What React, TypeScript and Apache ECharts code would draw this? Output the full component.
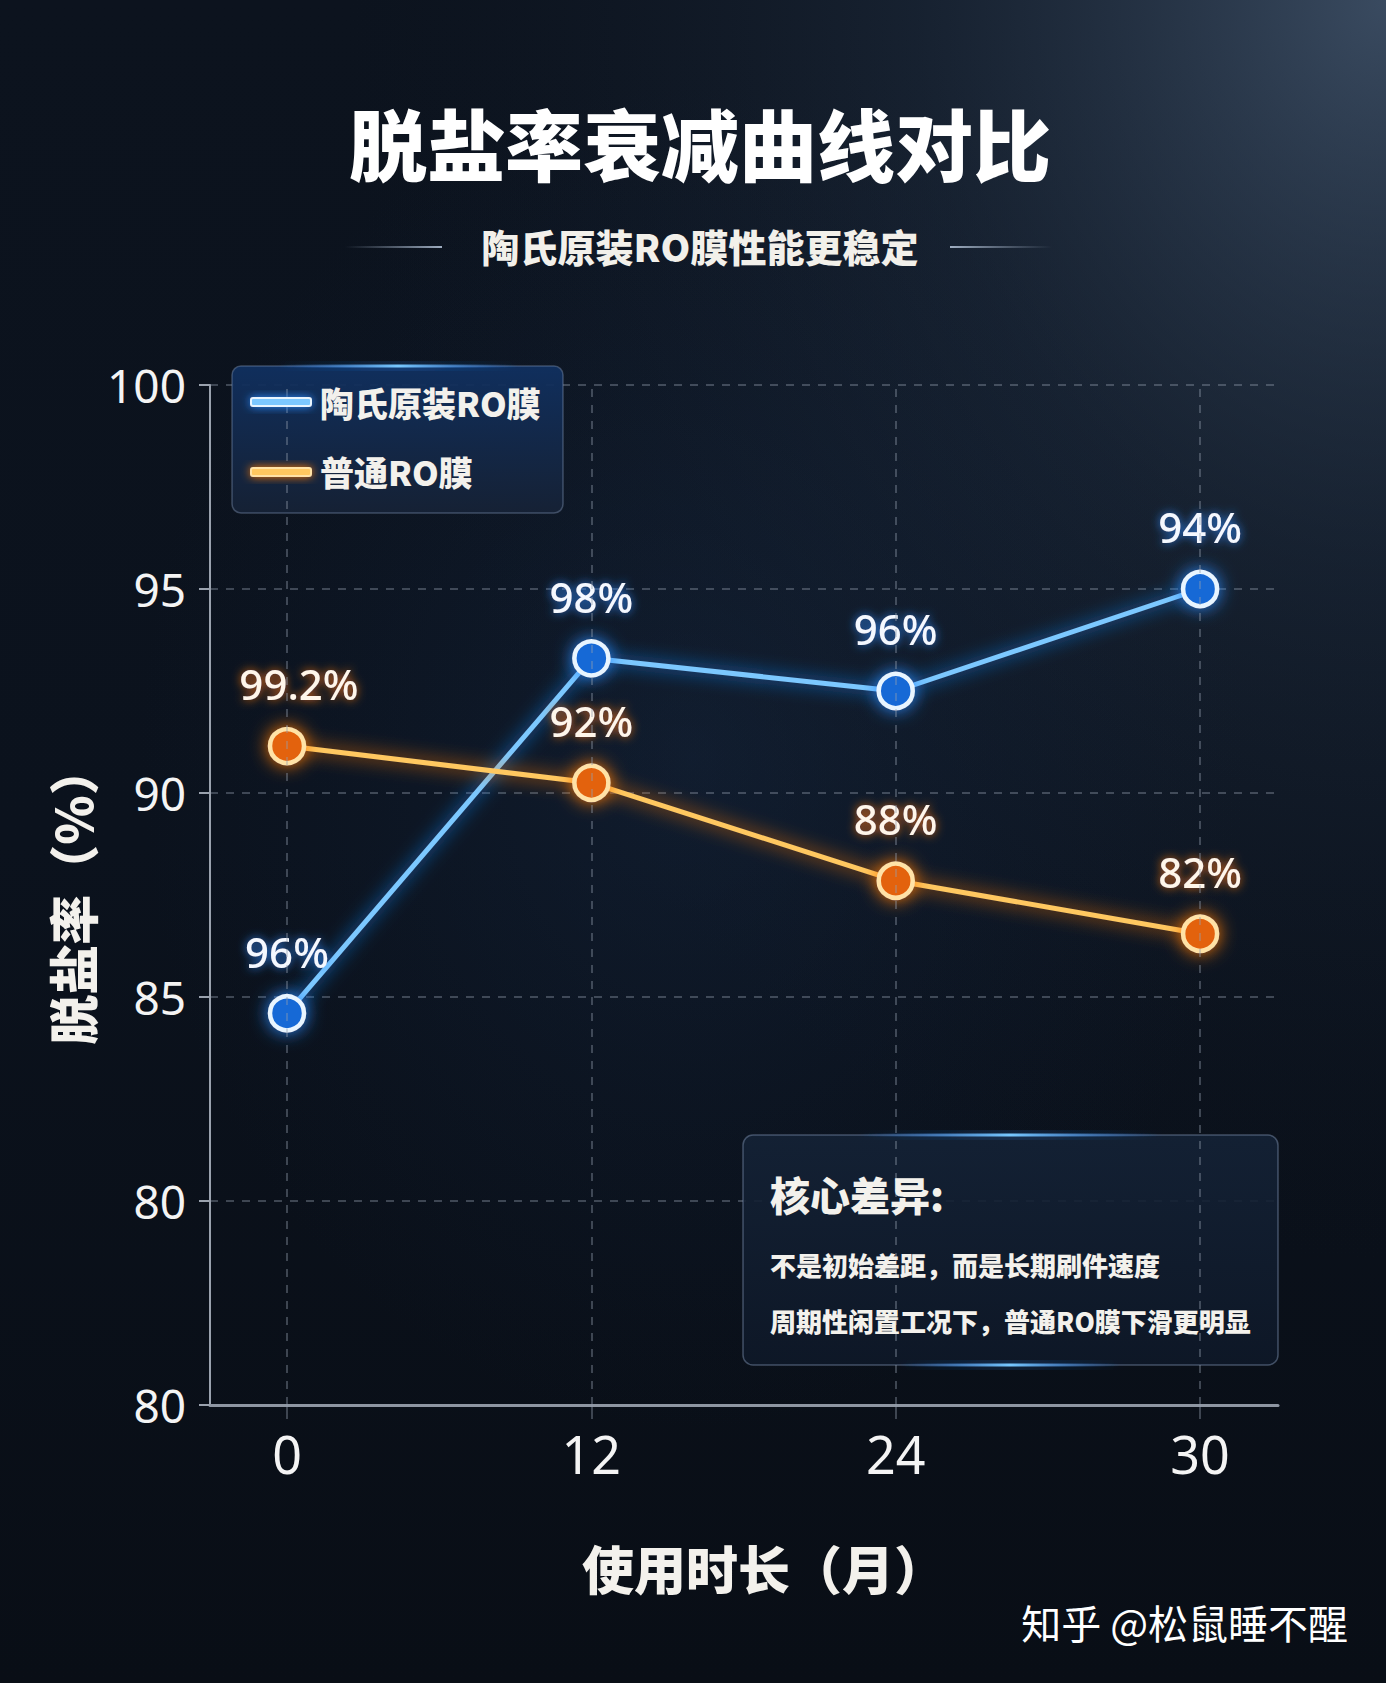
import React, { useEffect, useRef } from "react";
import * as echarts from "echarts";

const categories = ["0", "12", "24", "30"];
const dowSeries = [84.6, 93.3, 92.5, 95.0];
const dowLabels = ["96%", "98%", "96%", "94%"];
const normalSeries = [91.15, 90.25, 87.85, 86.55];
const normalLabels = ["99.2%", "92%", "88%", "82%"];
const yTickValues = [75, 80, 85, 90, 95, 100];
const yTickLabels = ["80", "80", "85", "90", "95", "100"];
const seriesNames = ["陶氏原装RO膜", "普通RO膜"];
const titleText = "脱盐率衰减曲线对比";
const subtitleText = "陶氏原装RO膜性能更稳定";
const xAxisName = "使用时长（月）";
const yAxisName = "脱盐率（%）";
const noteTitle = "核心差异:";
const noteLines = ["不是初始差距，而是长期刷件速度", "周期性闲置工况下，普通RO膜下滑更明显"];
const watermark = "知乎 @松鼠睡不醒";

const W = 1386;
const H = 1683;
const CJK = '"Noto Sans CJK SC", "Noto Sans", sans-serif';
const NUM = '"Noto Sans", "Open Sans", sans-serif';
const GRID_COLOR = "rgba(150,160,176,0.5)";

export default function App() {
  const ref = useRef<HTMLDivElement>(null);

  useEffect(() => {
    document.body.style.margin = "0";
    document.body.style.background = "#0a1019";
    if (!ref.current) return;
    const chart = echarts.init(ref.current, undefined, { renderer: "svg", width: W, height: H });

    const idx = categories.map((_, i) => i);

    const glowLine = (cx: number, y: number, w: number) => ({
      type: "rect",
      z: 6,
      shape: { x: cx - w / 2, y: y - 1.5, width: w, height: 3, r: 1.5 },
      style: {
        fill: new echarts.graphic.LinearGradient(0, 0, 1, 0, [
          { offset: 0, color: "rgba(40,130,255,0)" },
          { offset: 0.5, color: "rgba(120,200,255,1)" },
          { offset: 1, color: "rgba(40,130,255,0)" },
        ]),
        shadowBlur: 14,
        shadowColor: "rgba(40,140,255,0.9)",
      },
    });

    const sideLine = (x: number, w: number, fadeLeft: boolean) => ({
      type: "rect",
      z: 10,
      shape: { x, y: 246, width: w, height: 2 },
      style: {
        fill: new echarts.graphic.LinearGradient(0, 0, 1, 0, [
          { offset: 0, color: fadeLeft ? "rgba(150,165,185,0)" : "rgba(175,190,210,0.9)" },
          { offset: 1, color: fadeLeft ? "rgba(175,190,210,0.9)" : "rgba(150,165,185,0)" },
        ]),
      },
    });

    const option: any = {
      animation: false,
      backgroundColor: "#0a1019",
      grid: { left: 210, right: 108, top: 385, bottom: 278, containLabel: false },
      legend: {
        orient: "vertical",
        left: 245,
        top: 380,
        itemWidth: 60,
        itemHeight: 8,
        itemGap: 36,
        icon: "roundRect",
        z: 8,
        textStyle: {
          color: "#f3f1ec",
          fontSize: 34,
          fontWeight: 900,
          fontFamily: CJK,
          padding: [0, 0, 0, 4],
        },
        data: [
          {
            name: seriesNames[0],
            itemStyle: { color: "#7cc8ff", shadowBlur: 10, shadowColor: "#2a8cff" },
          },
          {
            name: seriesNames[1],
            itemStyle: { color: "#ffc860", shadowBlur: 10, shadowColor: "#ff7a10" },
          },
        ],
      },
      xAxis: {
        type: "value",
        min: -0.253,
        max: 3.256,
        name: xAxisName,
        nameLocation: "middle",
        nameGap: 136,
        nameTextStyle: {
          color: "#f3f1ec",
          fontSize: 52,
          fontWeight: 900,
          fontFamily: CJK,
          padding: [0, 0, 0, 40],
        },
        axisLine: { show: true, onZero: false, lineStyle: { color: "#8e96a2", width: 3 } },
        axisTick: {
          show: true,
          customValues: idx,
          length: 14,
          lineStyle: { color: GRID_COLOR, width: 1.5 },
        },
        axisLabel: {
          customValues: idx,
          formatter: (v: number) => categories[Math.round(v)],
          color: "#f4f4f4",
          fontSize: 52,
          fontFamily: NUM,
          margin: 22,
        },
        splitLine: { show: false },
      },
      yAxis: {
        type: "value",
        min: 75,
        max: 100,
        interval: 5,
        name: yAxisName,
        nameLocation: "middle",
        nameRotate: 90,
        nameGap: 113,
        nameTextStyle: { color: "#f3f1ec", fontSize: 50, fontWeight: 900, fontFamily: CJK },
        axisLine: { show: true, onZero: false, lineStyle: { color: "#9aa2ae", width: 2 } },
        axisTick: { show: true, length: 11, lineStyle: { color: "#9aa2ae", width: 2 } },
        axisLabel: {
          formatter: (v: number) => yTickLabels[yTickValues.indexOf(v)] ?? "",
          color: "#f4f4f4",
          fontSize: 46,
          fontFamily: NUM,
          margin: 24,
        },
        splitLine: { show: true, lineStyle: { color: GRID_COLOR, type: [8, 8], width: 1.5 } },
      },
      graphic: [
        {
          type: "rect",
          z: -10,
          silent: true,
          shape: { x: 0, y: 0, width: W, height: H },
          style: {
            fill: new echarts.graphic.LinearGradient(0, 0, 0, 1, [
              { offset: 0, color: "#0c131e" },
              { offset: 0.5, color: "#0b121d" },
              { offset: 1, color: "#090e16" },
            ]),
          },
        },
        {
          type: "rect",
          z: -9,
          silent: true,
          shape: { x: 0, y: 0, width: W, height: H },
          style: {
            fill: new echarts.graphic.RadialGradient(1, 0, 0.75, [
              { offset: 0, color: "rgba(95,120,150,0.55)" },
              { offset: 0.45, color: "rgba(50,70,95,0.28)" },
              { offset: 1, color: "rgba(20,30,45,0)" },
            ]),
          },
        },
        {
          type: "rect",
          z: -8,
          silent: true,
          shape: { x: 0, y: 0, width: W, height: H },
          style: {
            fill: new echarts.graphic.RadialGradient(0.5, 0.45, 0.4, [
              { offset: 0, color: "rgba(30,55,90,0.28)" },
              { offset: 1, color: "rgba(20,40,70,0)" },
            ]),
          },
        },
        {
          type: "text",
          z: 10,
          x: 700,
          y: 142,
          style: {
            text: titleText,
            fill: "#ffffff",
            fontSize: 78,
            fontWeight: 900,
            fontFamily: CJK,
            align: "center",
            verticalAlign: "middle",
            shadowColor: "rgba(0,0,0,0.85)",
            shadowOffsetX: 3,
            shadowOffsetY: 4,
            shadowBlur: 4,
          },
        },
        {
          type: "text",
          z: 10,
          x: 700,
          y: 245,
          style: {
            text: subtitleText,
            fill: "#f2f0ea",
            fontSize: 38,
            fontWeight: 900,
            fontFamily: CJK,
            align: "center",
            verticalAlign: "middle",
            shadowColor: "rgba(0,0,0,0.8)",
            shadowOffsetX: 2,
            shadowOffsetY: 3,
            shadowBlur: 3,
          },
        },
        sideLine(345, 97, true),
        sideLine(950, 102, false),
        {
          type: "rect",
          z: 5,
          shape: { x: 232, y: 366, width: 331, height: 147, r: 9 },
          style: {
            fill: new echarts.graphic.LinearGradient(0, 0, 0, 1, [
              { offset: 0, color: "rgba(16,48,96,0.95)" },
              { offset: 1, color: "rgba(22,34,54,0.92)" },
            ]),
            stroke: "rgba(120,140,170,0.45)",
            lineWidth: 1.5,
          },
        },
        glowLine(398, 366, 240),
        {
          type: "rect",
          z: 5,
          shape: { x: 743, y: 1135, width: 535, height: 230, r: 10 },
          style: {
            fill: new echarts.graphic.LinearGradient(0, 0, 0, 1, [
              { offset: 0, color: "rgba(20,34,54,0.9)" },
              { offset: 1, color: "rgba(14,24,40,0.9)" },
            ]),
            stroke: "rgba(120,140,170,0.5)",
            lineWidth: 1.5,
          },
        },
        glowLine(1010, 1135, 300),
        glowLine(1010, 1365, 220),
        {
          type: "text",
          z: 7,
          x: 770,
          y: 1194,
          style: {
            text: noteTitle,
            fill: "#f3f1ec",
            fontSize: 40,
            fontWeight: 900,
            fontFamily: CJK,
            verticalAlign: "middle",
          },
        },
        ...noteLines.map((t, i) => ({
          type: "text",
          z: 7,
          x: 770,
          y: 1264 + i * 56,
          style: {
            text: t,
            fill: "#f3f1ec",
            fontSize: 26,
            fontWeight: 900,
            fontFamily: CJK,
            verticalAlign: "middle",
          },
        })),
        {
          type: "text",
          z: 10,
          x: 1348,
          y: 1622,
          style: {
            text: watermark,
            fill: "#ffffff",
            fontSize: 40,
            fontFamily: CJK,
            align: "right",
            verticalAlign: "middle",
          },
        },
      ],
      series: [
        {
          name: "grid",
          type: "line",
          data: [],
          z: 1,
          silent: true,
          markLine: {
            silent: true,
            symbol: "none",
            label: { show: false },
            lineStyle: { color: GRID_COLOR, type: [8, 8], width: 1.5 },
            data: idx.map((i) => ({ xAxis: i })),
          },
        },
        {
          name: seriesNames[0],
          type: "line",
          z: 3,
          data: dowSeries.map((v, i) => [i, v]),
          symbol: "circle",
          symbolSize: 34,
          lineStyle: { color: "#7cc8ff", width: 5, shadowColor: "#1f8bff", shadowBlur: 18 },
          itemStyle: {
            color: "#1769d6",
            borderColor: "#e8f5ff",
            borderWidth: 4.5,
            shadowColor: "#2a8cff",
            shadowBlur: 18,
          },
          label: {
            show: true,
            position: "top",
            distance: 22,
            formatter: (p: any) => dowLabels[p.dataIndex],
            color: "#f4f8ff",
            fontSize: 42,
            fontWeight: 500,
            fontFamily: NUM,
            textShadowColor: "rgba(50,140,255,0.9)",
            textShadowBlur: 10,
          },
        },
        {
          name: seriesNames[1],
          type: "line",
          z: 3,
          data: normalSeries.map((v, i) =>
            i === 0 ? { value: [i, v], label: { offset: [12, 0] } } : [i, v]
          ),
          symbol: "circle",
          symbolSize: 34,
          lineStyle: { color: "#ffc860", width: 5, shadowColor: "#ff7a10", shadowBlur: 18 },
          itemStyle: {
            color: "#e3620f",
            borderColor: "#ffe2a6",
            borderWidth: 4.5,
            shadowColor: "#ff7a10",
            shadowBlur: 18,
          },
          label: {
            show: true,
            position: "top",
            distance: 22,
            formatter: (p: any) => normalLabels[p.dataIndex],
            color: "#fff6ea",
            fontSize: 42,
            fontWeight: 500,
            fontFamily: NUM,
            textShadowColor: "rgba(255,120,20,0.9)",
            textShadowBlur: 10,
          },
        },
      ],
    };

    chart.setOption(option);
    return () => chart.dispose();
  }, []);

  return <div ref={ref} style={{ width: W, height: H }} />;
}
